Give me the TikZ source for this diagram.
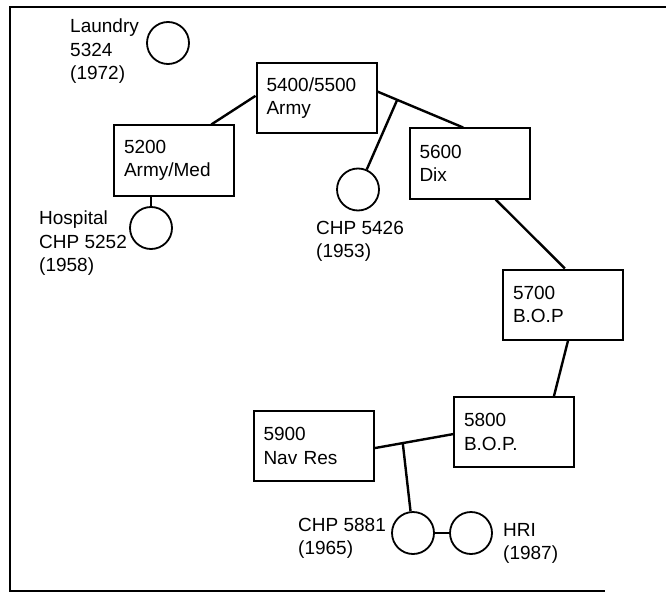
\documentclass[tikz,border=0pt]{standalone}
\usepackage{fontspec}
\setmainfont{Liberation Sans}
\usetikzlibrary{positioning,calc}
\tikzset{
  font=\fontsize{19}{23.5}\selectfont,
  unit/.style={draw,line width=2pt,minimum height=70pt,text width=100pt,
               inner xsep=10pt,inner ysep=0pt,align=left},
  site/.style={draw,circle,line width=1.8pt,minimum size=42pt,inner sep=0pt},
  tag/.style={anchor=north west,inner sep=0pt,align=left},
  link/.style={line width=2.4pt},
  frame/.style={line width=1.8pt},
}

\begin{document}
\begin{tikzpicture}[x=1pt,y=-1pt]
\useasboundingbox (0,0) rectangle (666,596);

% ============ FRAME ============
\draw[frame] (666,7) -- (10,7) -- (10,591) -- (605,591);

% ============ UNITS ============
\node[unit] (army)  at (316.5,98)  {5400/5500\\ Army};
\node[unit] (armed) at (174,160.5) {5200\\ Army/Med};
\node[unit] (dix)   at (469.5,163.5) {5600\\ Dix};
\node[unit] (bopA)  at (563,304.5) {5700\\ B.O.P};
\node[unit] (bopB)  at (514,432)   {5800\\ B.O.P.};
\node[unit] (navres) at (313.5,446) {5900\\ Nav Res};

% ============ SITES ============
\node[site] (laundry) at (168,43) {};
\node[site] (hosp)    at (151,228) {};
\node[site] (chpA)    at (358,189.5) {};
\node[site] (chpB)    at (413,533) {};
\node[site] (hri)     at (471,533) {};

% ---------- site labels ----------
\node[tag] (lLaundry) at (70,19)  {Laundry\\ 5324\\ (1972)};
\node[tag] (lHosp)    at (39,211) {Hospital\\ CHP 5252\\ (1958)};
\node[tag] (lChpA)    at (316,221) {CHP 5426\\ (1953)};
\node[tag] (lChpB)    at (298,518) {CHP 5881\\ (1965)};
\node[tag] (lHri)     at (503,523) {HRI\\ (1987)};

% ---------- edges ----------
\draw[link] (armed.44) -- (army.178);
\draw[link] (army.6) -- (dix.100);
\coordinate (jA) at ($(army.6)!0.23!(dix.100)$);
\draw[link] (jA) -- (chpA);
\draw[link] (hosp.north) -- (hosp.north |- armed.south);
\draw[link] (dix.-54) -- (bopA.87);
\draw[link] (bopA.-82) -- (bopB.42);
\draw[link] (navres.-2) -- (bopB.182);
\coordinate (jB) at ($(navres.-2)!0.36!(bopB.182)$);
\draw[link] (jB) -- (chpB);
\draw[link] (chpB) -- (hri);

\end{tikzpicture}
\end{document}
